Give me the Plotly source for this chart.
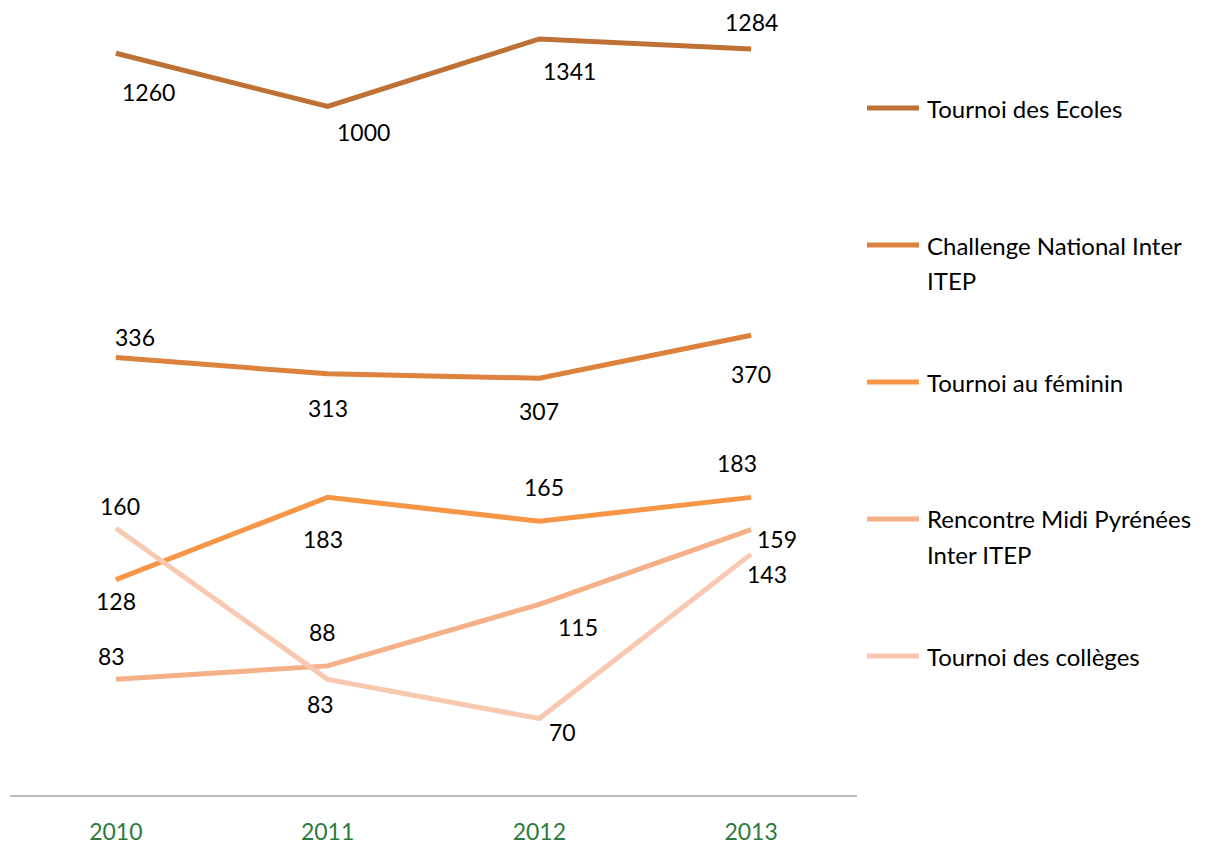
import math
import plotly.graph_objects as go

years = ["2010", "2011", "2012", "2013"]
series_names = [
    "Tournoi des Ecoles",
    "Challenge National Inter<br>ITEP",
    "Tournoi au féminin",
    "Rencontre Midi Pyrénées<br>Inter ITEP",
    "Tournoi des collèges",
]
ecoles = [1260, 1000, 1341, 1284]
challenge = [336, 313, 307, 370]
feminin = [128, 183, 165, 183]
rencontre = [83, 88, 115, 159]
colleges = [160, 83, 70, 143]

series_values = [ecoles, challenge, feminin, rencontre, colleges]
colors = ["#BF7135", "#DD823C", "#F79646", "#F6B088", "#F8C9B0"]

# label offsets (xshift, yshift) in pixels, per series per point
label_shifts = [
    [(33, -39), (36, -26), (30, -32), (0, 27)],
    [(19, 20), (0, -34), (0, -33), (0, -39)],
    [(0, -21), (-5, -42), (5, 34), (-14, 34)],
    [(-4, 23), (-5, 34), (39, -23), (26, -9)],
    [(4, 22), (-7, -25), (23, -13), (16, -20)],
]

FONT = "Lato"
FS = 23
LFS = 24

# page has 8px body margin: screen coords = figure coords + 8
OFF = 8
W, H = 1208, 843
L = 10 - OFF
R = W - (857 - OFF)
T = 0
B = H - (796 - OFF)
pw = W - L - R
ph = H - T - B

fig = go.Figure()
for name, vals, col in zip(series_names, series_values, colors):
    fig.add_trace(go.Scatter(
        x=years, y=vals, mode="lines", name=name.replace("<br>", " "),
        line=dict(color=col, width=5), showlegend=False,
    ))

annotations = []
for vals, shifts in zip(series_values, label_shifts):
    for i, (v, (dx, dy)) in enumerate(zip(vals, shifts)):
        annotations.append(dict(
            x=i, y=math.log10(v), xref="x", yref="y", text=str(v),
            showarrow=False, xshift=dx, yshift=dy,
            font=dict(family=FONT, size=FS, color="#000000"),
        ))


def px_x(sx):
    return (sx - OFF - L) / pw


def px_y(sy):
    return (H - B - (sy - OFF)) / ph


shapes = []
legend_y = [108, 245, 382, 519, 656]
for name, col, ly in zip(series_names, colors, legend_y):
    shapes.append(dict(
        type="line", xref="paper", yref="paper",
        x0=px_x(867), x1=px_x(919), y0=px_y(ly), y1=px_y(ly),
        line=dict(color=col, width=5),
    ))
    for k, part in enumerate(name.split("<br>")):
        annotations.append(dict(
            x=px_x(925), y=px_y(ly + 35 * k), xref="paper", yref="paper",
            xanchor="left", yanchor="middle", align="left", showarrow=False,
            text=part, font=dict(family=FONT, size=LFS, color="#000000"),
        ))

ymin = math.log10(50)
ymax = ymin + ph / 530.0

fig.update_layout(
    width=W, height=H,
    margin=dict(l=L, r=R, t=T, b=B, pad=0),
    paper_bgcolor="white", plot_bgcolor="white",
    font=dict(family=FONT, size=FS),
    xaxis=dict(
        type="category", range=[-0.5, 3.5], showgrid=False, zeroline=False,
        showline=False, ticks="", tickfont=dict(family=FONT, size=FS, color="#2E7A3C"),
        ticklabelstandoff=20,
    ),
    yaxis=dict(
        type="log", range=[ymin, ymax], showgrid=False, zeroline=False,
        showline=False, showticklabels=False, ticks="",
    ),
    shapes=shapes + [dict(
        type="line", xref="paper", yref="paper", x0=0, x1=1, y0=0, y1=0,
        line=dict(color="#A6A6A6", width=1.5),
    )],
    annotations=annotations,
    showlegend=False,
)

fig.write_html("out.html")
